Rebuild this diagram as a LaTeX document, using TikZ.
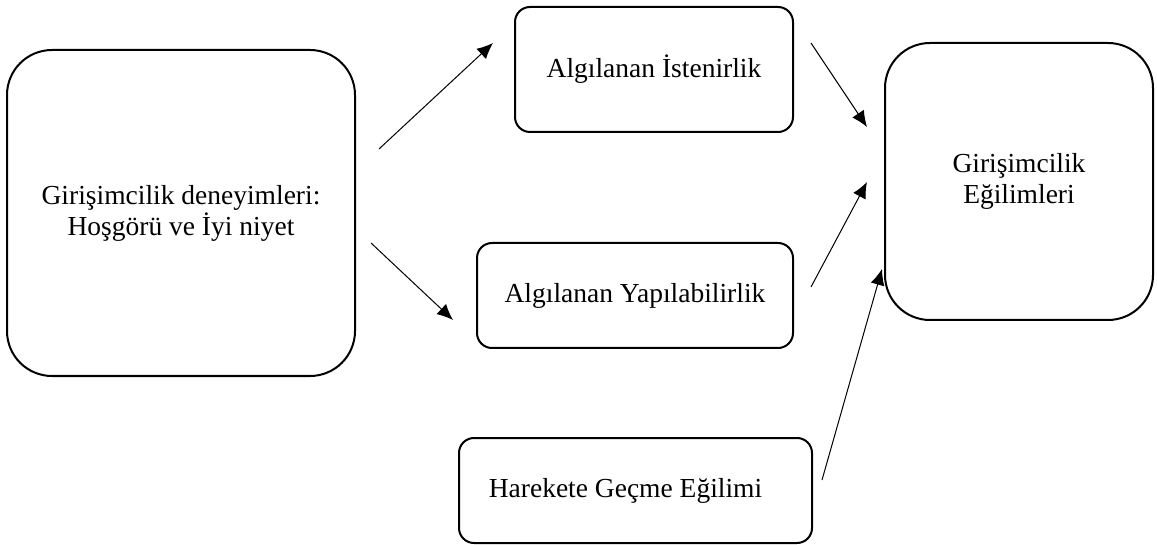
\documentclass[tikz,border=0pt]{standalone}
\usepackage{fontspec}
\setmainfont{Liberation Serif}
\usetikzlibrary{arrows.meta,positioning,calc}

\begin{document}
\begin{tikzpicture}[
    x=1pt, y=-1pt,
    bigbox/.style={rectangle, draw=black, line width=2pt, rounded corners=45pt, align=center, font=\fontsize{27.5}{31}\selectfont},
    smallbox/.style={rectangle, draw=black, line width=2pt, rounded corners=15pt, align=center, font=\fontsize{27.5}{31}\selectfont},
    flow/.style={-{Latex[length=16pt,width=14pt]}, line width=1pt}
]
\useasboundingbox (0,0) rectangle (1157,545);

% Experiences
\node[bigbox, minimum width=348pt, minimum height=326pt] (deney) at (181,213) {Girişimcilik deneyimleri:\\Hoşgörü ve İyi niyet};

% Perceptions
\node[smallbox, minimum width=278pt, minimum height=125pt] (isten) at (654,69.5) {Algılanan İstenirlik};
\node[smallbox, minimum width=316pt, minimum height=105pt] (yapil) at (635,295.5) {Algılanan Yapılabilirlik};
\node[smallbox, minimum width=353pt, minimum height=105pt] (harek) at (635.5,490.5) {\raisebox{-3pt}{Harekete Geçme Eğilimi}\hspace*{20pt}};

% Intentions
\node[bigbox, minimum width=268pt, minimum height=277pt] (egilim) at (1019,181.5) {Girişimcilik\\Eğilimleri};

% Arrow ends
\coordinate (deneyUp) at (379,149);
\coordinate (istenIn) at (493,43);
\coordinate (deneyDown) at (371,243);
\coordinate (yapilIn) at (453,320);
\coordinate (istenOut) at (811,43);
\coordinate (egilimTop) at (867,127);
\coordinate (yapilOut) at (811,287);
\coordinate (egilimMid) at (867,182);
\coordinate (harekOut) at (822,480);
\coordinate (egilimLow) at (882,269);

% Arrows
\draw[flow] (deneyUp) -- (istenIn);
\draw[flow] (deneyDown) -- (yapilIn);
\draw[flow] (istenOut) -- (egilimTop);
\draw[flow] (yapilOut) -- (egilimMid);
\draw[flow] (harekOut) -- (egilimLow);

\end{tikzpicture}
\end{document}
